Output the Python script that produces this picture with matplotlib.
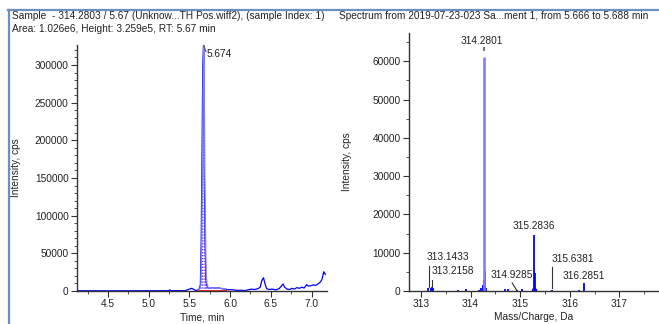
import matplotlib
matplotlib.use("Agg")
import matplotlib.pyplot as plt
from matplotlib.ticker import MultipleLocator
from matplotlib.lines import Line2D

plt.rcParams['font.family'] = ['Liberation Sans', 'DejaVu Sans']
plt.rcParams['font.size'] = 7.3

# -- XIC chromatogram (time, min / intensity, cps) --------------------------
xic_time = [4.12, 4.3, 4.5, 4.7, 4.9, 5.1, 5.24, 5.26, 5.28, 5.45, 5.50, 5.53,
            5.56, 5.58, 5.60, 5.62, 5.635, 5.645, 5.655, 5.665, 5.674, 5.683,
            5.692, 5.70, 5.71, 5.72, 5.73, 5.75, 5.78, 5.82, 5.86, 5.90, 5.94,
            5.98, 6.02, 6.06, 6.10, 6.14, 6.18, 6.22, 6.26, 6.30, 6.34, 6.37,
            6.39, 6.41, 6.43, 6.45, 6.48, 6.52, 6.56, 6.60, 6.63, 6.65, 6.67,
            6.70, 6.73, 6.76, 6.79, 6.82, 6.85, 6.88, 6.91, 6.94, 6.96, 6.99,
            7.02, 7.05, 7.08, 7.11, 7.13, 7.15, 7.17]
xic_int = [300, 300, 250, 300, 300, 350, 400, 1500, 400, 500, 2500, 3600,
           1500, 800, 1000, 3000, 8000, 64000, 176000, 300000, 325900, 156000,
           77000, 20000, 9000, 6000, 4000, 3500, 4500, 3800, 4200, 3000, 2500,
           1500, 1800, 1200, 800, 1000, 500, 1500, 2500, 2000, 3000, 5000,
           14000, 17600, 9000, 3000, 2000, 2500, 1500, 3000, 6500, 9300, 5000,
           2500, 2000, 3500, 2500, 4500, 3500, 5000, 4000, 8500, 6500, 7000,
           8000, 7500, 9500, 12000, 16000, 25600, 22000]
peak_start, peak_end = 5.60, 5.95
peak_rt = 5.674
peak_height = 325900

# -- mass spectrum (m/z, Da / intensity, cps) -------------------------------
ms_mz = [313.14, 313.20, 313.22, 313.25, 313.75, 313.90, 314.17, 314.22,
         314.25, 314.27, 314.30, 314.32, 314.70, 314.75, 314.93, 315.03,
         315.30, 315.32, 315.64, 316.18, 316.2851]
ms_int = [700, 800, 1000, 800, 300, 500, 300, 700, 1500, 3000, 5300, 800,
          400, 600, 150, 500, 4800, 600, 150, 300, 2000]
base_mz, base_int = 314.2801, 61100
mid_mz, mid_int = 315.2836, 14600

# labelled peaks: text, text x, text y, leader line (x0, y0, x1, y1) or None
ms_labels = [
    ("313.1433", 313.12, 8900, (313.16, 6500, 313.16, 1000)),
    ("313.2158", 313.22, 5200, (313.22, 3000, 313.22, 1200)),
    ("314.9285", 314.41, 4200, (314.84, 2100, 314.93, 200)),
    ("315.6381", 315.63, 8400, (315.64, 6300, 315.64, 800)),
    ("316.2851", 315.85, 3900, None),
]

W, H = 659, 324
fig = plt.figure(figsize=(W / 100, H / 100), dpi=100, facecolor="white")


def px(x, y):
    return x / W, 1 - y / H


# -- window frame -----------------------------------------------------------
frame = "#6b90c6"
fig.add_artist(Line2D([8 / W, 1], [1 - 9.5 / H, 1 - 9.5 / H], color=frame, lw=1.6,
                      transform=fig.transFigure))
fig.add_artist(Line2D([8.5 / W, 8.5 / W], [0, 1 - 9.5 / H], color=frame, lw=1.6,
                      transform=fig.transFigure))

fig.text(*px(12, 16), "Sample  - 314.2803 / 5.67 (Unknow...TH Pos.wiff2), (sample Index: 1)",
         va="center", ha="left", color="#222222")
fig.text(*px(12, 29), "Area: 1.026e6, Height: 3.259e5, RT: 5.67 min",
         va="center", ha="left", color="#222222")
fig.text(*px(494, 16), "Spectrum from 2019-07-23-023 Sa...ment 1, from 5.666 to 5.688 min",
         va="center", ha="center", color="#222222")


def style_axes(ax):
    for s in ("top", "right"):
        ax.spines[s].set_visible(False)
    for s in ("left", "bottom"):
        ax.spines[s].set_color("#333333")
        ax.spines[s].set_linewidth(1.0)
    ax.tick_params(which="major", length=4, color="#333333", labelcolor="#222222", pad=2)
    ax.tick_params(which="minor", length=2, color="#333333")
    ax.set_facecolor("white")


# -- left: chromatogram -----------------------------------------------------
ax1 = fig.add_axes([77 / W, 1 - 291 / H, 250 / W, 246 / H])
style_axes(ax1)
in_peak = [(t, v) for t, v in zip(xic_time, xic_int) if peak_start <= t <= peak_end]
for i, (t, v) in enumerate(in_peak):
    ax1.vlines(t, 0, v, colors="#ff80c0" if i % 2 else "#3030ff", linestyles=":", lw=0.8)
ax1.plot(xic_time, xic_int, color="#0000ff", lw=0.9)
ax1.plot([t + 0.006 for t, v in in_peak], [v for t, v in in_peak], color="#8080ff", lw=0.9)
ax1.plot([peak_start, peak_end], [0, 0], color="#ff2020", lw=1.4)
ax1.plot([peak_rt, peak_rt + 0.03], [peak_height, peak_height - 8000], color="#555555", lw=0.8)
ax1.text(peak_rt + 0.035, peak_height - 12000, "5.674", ha="left", va="center", color="#222222")
ax1.set_xlim(4.12, 7.19)
ax1.set_ylim(0, 326500)
ax1.xaxis.set_major_locator(MultipleLocator(0.5))
ax1.xaxis.set_minor_locator(MultipleLocator(0.25))
ax1.yaxis.set_major_locator(MultipleLocator(50000))
ax1.yaxis.set_minor_locator(MultipleLocator(10000))
ax1.set_xticklabels([f"{v:.1f}" for v in ax1.get_xticks()])
ax1.set_xlabel("Time, min", labelpad=2, color="#222222")
ax1.set_ylabel("Intensity, cps", color="#222222")
ax1.yaxis.set_label_coords(-56 / 250, 0.5)

# -- right: spectrum --------------------------------------------------------
ax2 = fig.add_axes([409 / W, 1 - 291 / H, 250 / W, 258 / H])
style_axes(ax2)
ax2.vlines(ms_mz, 0, ms_int, colors="#0000ff", lw=1.3)
ax2.vlines(base_mz, 0, base_int, colors="#8080ff", lw=1.9)
ax2.vlines(mid_mz, 0, mid_int, colors="#0000ff", lw=1.3)
ax2.plot([mid_mz], [300], marker="o", ms=3, mfc="none", mec="#0000ff", mew=0.8)
ax2.vlines(base_mz, base_int + 1500, base_int + 2600, colors="#777777", lw=1.5)
ax2.text(base_mz - 0.05, base_int + 3000, f"{base_mz:.4f}", ha="center", va="bottom", color="#222222")
ax2.text(mid_mz, mid_int + 1200, f"{mid_mz:.4f}", ha="center", va="bottom", color="#222222")
for label, tx, ty, lead in ms_labels:
    ax2.text(tx, ty, label, ha="left", va="center", color="#222222")
    if lead is not None:
        ax2.plot([lead[0], lead[2]], [lead[1], lead[3]], color="#333333", lw=0.8)
ax2.set_xlim(312.76, 317.8)
ax2.set_ylim(0, 67400)
ax2.xaxis.set_major_locator(MultipleLocator(1))
ax2.xaxis.set_minor_locator(MultipleLocator(0.5))
ax2.yaxis.set_major_locator(MultipleLocator(10000))
ax2.yaxis.set_minor_locator(MultipleLocator(5000))
ax2.set_xticklabels([f"{v:.0f}" for v in ax2.get_xticks()])
ax2.set_xlabel("Mass/Charge, Da", labelpad=2, color="#222222")
ax2.set_ylabel("Intensity, cps", color="#222222")
ax2.yaxis.set_label_coords(-57 / 250, 0.5)

fig.savefig("out.png", dpi=100, facecolor="white")
